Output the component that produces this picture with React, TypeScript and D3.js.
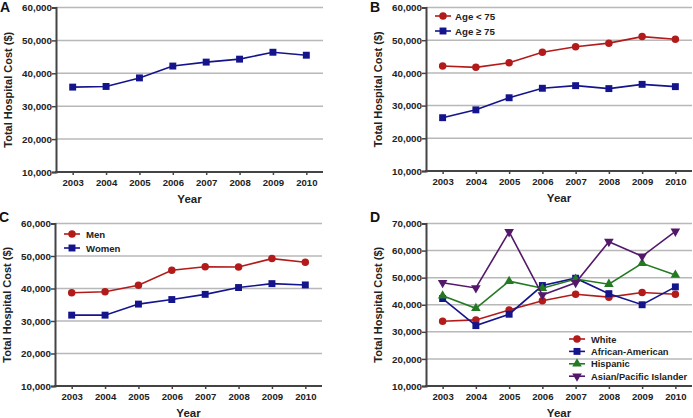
import React, { useEffect, useRef } from 'react'
import * as d3 from 'd3'

const years = ['2003', '2004', '2005', '2006', '2007', '2008', '2009', '2010']

// Panel A – overall
const overallCost = [35800, 36000, 38600, 42200, 43400, 44300, 46400, 45500]
// Panel B – age
const ageUnder75 = [42100, 41700, 43100, 46300, 48000, 49100, 51100, 50300]
const age75Plus = [26300, 28700, 32400, 35300, 36100, 35200, 36500, 35800]
// Panel C – sex
const menCost = [38700, 39000, 41000, 45600, 46700, 46600, 49200, 48100]
const womenCost = [31800, 31800, 35200, 36600, 38200, 40300, 41500, 41100]
// Panel D – race
const whiteCost = [33900, 34400, 38100, 41500, 43900, 42800, 44500, 43900]
const africanAmericanCost = [42300, 32300, 36500, 47100, 49800, 44100, 40000, 46600]
const hispanicCost = [43300, 38700, 48700, 46100, 49500, 47600, 55300, 51000]
const asianCost = [48100, 46200, 66900, 43600, 48100, 63300, 57900, 67100]

const yTicks60 = [10000, 20000, 30000, 40000, 50000, 60000]
const yTicks70 = [10000, 20000, 30000, 40000, 50000, 60000, 70000]

const RED = '#b31b1b'
const BLUE = '#14148c'
const GREEN = '#237a23'
const PURPLE = '#54186a'
const FONT = '"Liberation Sans", Arial, sans-serif'

type Marker = 'circle' | 'square' | 'triangle' | 'triangleDown'
interface Series { name: string; values: number[]; color: string; marker: Marker }
interface PanelDef {
  letter: string
  left: number; right: number; top: number; bottom: number
  ticks: number[]
  series: Series[]
  legend?: { x: number; y: number; step: number; dx: number; size: number }
}

const panels: PanelDef[] = [
  {
    letter: 'A', left: 56, right: 323, top: 7.5, bottom: 172, ticks: yTicks60,
    series: [{ name: 'All', values: overallCost, color: BLUE, marker: 'square' }],
  },
  {
    letter: 'B', left: 426, right: 692, top: 7.5, bottom: 171, ticks: yTicks60,
    series: [
      { name: 'Age < 75', values: ageUnder75, color: RED, marker: 'circle' },
      { name: 'Age \u2265 75', values: age75Plus, color: BLUE, marker: 'square' },
    ],
    legend: { x: 443, y: 16, step: 15, dx: 12, size: 9.7 },
  },
  {
    letter: 'C', left: 55, right: 322, top: 223.5, bottom: 386, ticks: yTicks60,
    series: [
      { name: 'Men', values: menCost, color: RED, marker: 'circle' },
      { name: 'Women', values: womenCost, color: BLUE, marker: 'square' },
    ],
    legend: { x: 72, y: 234, step: 14, dx: 14, size: 9.6 },
  },
  {
    letter: 'D', left: 426, right: 692, top: 223.5, bottom: 386, ticks: yTicks70,
    series: [
      { name: 'White', values: whiteCost, color: RED, marker: 'circle' },
      { name: 'African-American', values: africanAmericanCost, color: BLUE, marker: 'square' },
      { name: 'Hispanic', values: hispanicCost, color: GREEN, marker: 'triangle' },
      { name: 'Asian/Pacific Islander', values: asianCost, color: PURPLE, marker: 'triangleDown' },
    ],
    legend: { x: 577, y: 339, step: 12.4, dx: 14, size: 9.3 },
  },
]

const drawMarker = (g: d3.Selection<SVGGElement, unknown, null, undefined>, m: Marker, x: number, y: number, color: string) => {
  const type = m === 'circle' ? d3.symbolCircle : m === 'square' ? d3.symbolSquare : d3.symbolTriangle
  const size = m === 'circle' ? 44 : m === 'square' ? 48 : 40
  g.append('path')
    .attr('d', d3.symbol().type(type).size(size)() as string)
    .attr('transform', `translate(${x},${y})${m === 'triangleDown' ? ' rotate(180)' : ''}`)
    .attr('fill', color)
}

const App = () => {
  const svgRef = useRef<SVGSVGElement>(null)

  useEffect(() => {
    if (!svgRef.current) return
    const svg = d3.select(svgRef.current)
    svg.selectAll('*').remove()

    panels.forEach(p => {
      const g = svg.append('g')
      const x = d3.scalePoint<string>().domain(years).range([p.left, p.right]).padding(0.5)
      const y = d3.scaleLinear()
        .domain([p.ticks[0], p.ticks[p.ticks.length - 1]])
        .range([p.bottom, p.top])

      // grid lines
      p.ticks.slice(1).forEach(t => {
        g.append('line')
          .attr('x1', p.left).attr('x2', p.right)
          .attr('y1', y(t)).attr('y2', y(t))
          .attr('stroke', '#b8b8b8').attr('stroke-width', 1.5)
      })

      // y axis
      const yAxis = g.append('g')
        .attr('transform', `translate(${p.left},0)`)
        .call(d3.axisLeft(y).tickValues(p.ticks).tickSize(4).tickFormat(d3.format(',') as any))
      yAxis.select('.domain').attr('stroke', '#444').attr('stroke-width', 2)
      yAxis.selectAll('.tick line').attr('stroke', '#444').attr('stroke-width', 1.5)
      yAxis.selectAll('.tick text')
        .attr('font-family', FONT).attr('font-size', 9.8).attr('font-weight', 'bold')
        .attr('fill', '#222').attr('x', -4)

      // x axis
      const xAxis = g.append('g')
        .attr('transform', `translate(0,${p.bottom})`)
        .call(d3.axisBottom(x).tickSize(3).tickSizeOuter(0))
      xAxis.select('.domain').attr('stroke', '#444').attr('stroke-width', 2)
        .attr('d', `M${p.left - 1},0H${p.right}`)
      xAxis.selectAll('.tick line').attr('stroke', '#444').attr('stroke-width', 1.5)
      xAxis.selectAll('.tick text')
        .attr('font-family', FONT).attr('font-size', 9.6).attr('font-weight', 'bold')
        .attr('fill', '#222').attr('y', 7)

      // axis titles
      g.append('text')
        .attr('x', (p.left + p.right) / 2)
        .attr('y', p.bottom + 31)
        .attr('text-anchor', 'middle')
        .attr('font-family', FONT).attr('font-size', 11.5).attr('font-weight', 'bold')
        .attr('fill', '#222')
        .text('Year')

      g.append('text')
        .attr('transform', `translate(${p.left - 44},${(p.top + p.bottom) / 2}) rotate(-90)`)
        .attr('text-anchor', 'middle')
        .attr('font-family', FONT).attr('font-size', 11).attr('font-weight', 'bold')
        .attr('fill', '#222')
        .text('Total Hospital Cost ($)')

      // panel letter
      g.append('text')
        .attr('x', p.left - 56)
        .attr('y', Math.max(12, p.top - 1.5))
        .attr('font-family', FONT).attr('font-size', 14).attr('font-weight', 'bold')
        .attr('fill', '#111')
        .text(p.letter)

      // series
      p.series.forEach(s => {
        const line = d3.line<number>()
          .x((_, i) => x(years[i]) as number)
          .y(v => y(v))
        g.append('path')
          .attr('d', line(s.values) as string)
          .attr('fill', 'none')
          .attr('stroke', s.color)
          .attr('stroke-width', 1.6)
        s.values.forEach((v, i) => drawMarker(g, s.marker, x(years[i]) as number, y(v), s.color))
      })

      // legend
      if (p.legend) {
        const lg = p.legend
        p.series.forEach((s, i) => {
          const ly = lg.y + i * lg.step
          g.append('line')
            .attr('x1', lg.x - 8).attr('x2', lg.x + 8)
            .attr('y1', ly).attr('y2', ly)
            .attr('stroke', s.color).attr('stroke-width', 1.6)
          drawMarker(g, s.marker, lg.x, ly, s.color)
          g.append('text')
            .attr('x', lg.x + lg.dx)
            .attr('y', ly + 3.5)
            .attr('font-family', FONT).attr('font-size', lg.size).attr('font-weight', 'bold')
            .attr('fill', '#222')
            .text(s.name)
        })
      }
    })
  }, [])

  return (
    <svg
      ref={svgRef}
      width={693}
      height={418}
      style={{ position: 'absolute', left: 0, top: 0, background: '#fff' }}
    />
  )
}

export default App
